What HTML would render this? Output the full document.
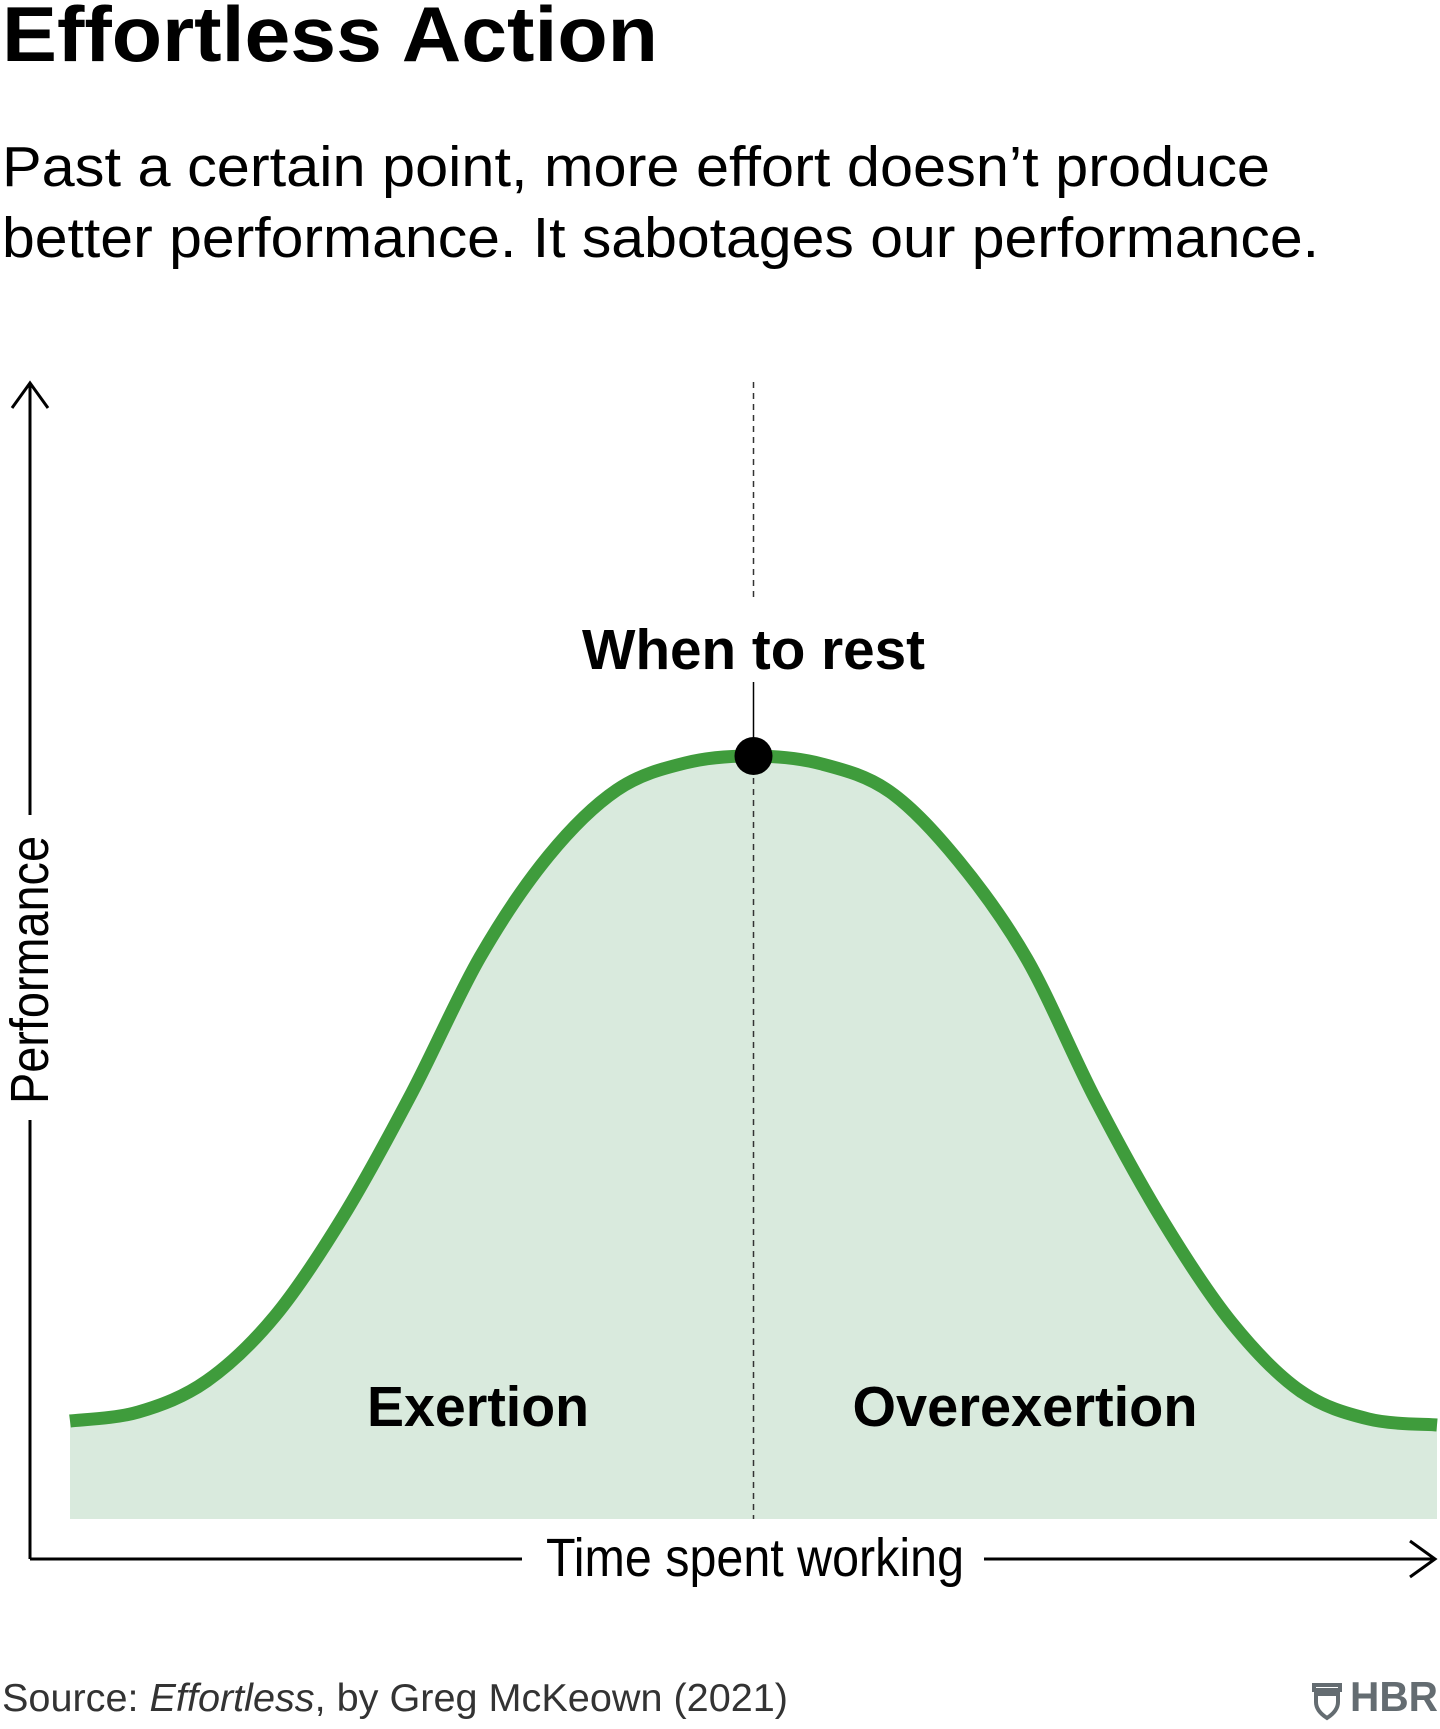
<!DOCTYPE html>
<html><head><meta charset="utf-8"><style>
html,body{margin:0;padding:0;background:#fff;}
body{width:1440px;height:1724px;overflow:hidden;font-family:"Liberation Sans",sans-serif;}
</style></head><body>
<svg width="1440" height="1724" viewBox="0 0 1440 1724" xmlns="http://www.w3.org/2000/svg">
<text x="2" y="61" font-size="78" font-weight="bold" fill="#000" font-family="Liberation Sans, sans-serif" textLength="656" lengthAdjust="spacingAndGlyphs">Effortless Action</text>
<text x="2" y="186" font-size="57" fill="#000" font-family="Liberation Sans, sans-serif" textLength="1268" lengthAdjust="spacingAndGlyphs">Past a certain point, more effort doesn’t produce</text>
<text x="2" y="257" font-size="57" fill="#000" font-family="Liberation Sans, sans-serif" textLength="1317" lengthAdjust="spacingAndGlyphs">better performance. It sabotages our performance.</text>
<g id="plot"></g>
<text x="2" y="1711" font-size="39" fill="#333" font-family="Liberation Sans, sans-serif" textLength="786" lengthAdjust="spacingAndGlyphs">Source: <tspan font-style="italic">Effortless</tspan>, by Greg McKeown (2021)</text>
<g fill="#646c71">
<path d="M1314 1685 h26 v5 h-26z M1316 1694 h22 v8 q0 9 -11 16 q-11 -7 -11 -16z" fill="none" stroke="#646c71" stroke-width="4"/>
<text x="1350" y="1711" font-size="42" font-weight="bold" font-family="Liberation Sans, sans-serif" textLength="88" lengthAdjust="spacingAndGlyphs">HBR</text>
</g>
</svg>
<script>
const timeSteps = [0,1,2,3,4,5,6,7,8,9,10,11,12,13,14,15,16,17,18,19,20];
const performance = [98,107,138,203,303,426,562,663,729,756,763,755,727,658,560,420,297,196,128,100,94];
const peakIndex = 10;
const labels = ["Exertion","Overexertion"];

const NS="http://www.w3.org/2000/svg";
const g=document.getElementById('plot');
const x0=70,x1=1437,base=1519;
const xs=t=>x0+t*(x1-x0)/20;
const ys=v=>base-v;
function el(tag,attrs){const e=document.createElementNS(NS,tag);for(const k in attrs)e.setAttribute(k,attrs[k]);g.appendChild(e);return e;}
const P=timeSteps.map((t,i)=>[xs(t),ys(performance[i])]);
let d=`M${P[0][0]},${P[0][1]}`;
for(let i=0;i<P.length-1;i++){
  const p0=P[Math.max(0,i-1)],p1=P[i],p2=P[i+1],p3=P[Math.min(P.length-1,i+2)];
  d+=` C${p1[0]+(p2[0]-p0[0])/6},${p1[1]+(p2[1]-p0[1])/6} ${p2[0]-(p3[0]-p1[0])/6},${p2[1]-(p3[1]-p1[1])/6} ${p2[0]},${p2[1]}`;
}
const area=el('path',{d:d+` L${x1},${base} L${x0},${base} Z`,fill:'#d9eadd'});


const px=xs(timeSteps[peakIndex]),py=ys(performance[peakIndex]);
const dash1=el('line',{x1:px,y1:382,x2:px,y2:599,stroke:'#333','stroke-width':1.5,'stroke-dasharray':'6,5'});


const dash2=el('line',{x1:px,y1:py,x2:px,y2:base,stroke:'#333','stroke-width':1.5,'stroke-dasharray':'6,5'});


const curve=el('path',{d:d,fill:'none',stroke:'#3f9c3c','stroke-width':13});


const sl=el('line',{x1:px,y1:682,x2:px,y2:py,stroke:'#000','stroke-width':1.5});


const dot=el('circle',{cx:px,cy:py,r:19,fill:'#000'});


const wt=el('text',{x:px,y:669,'text-anchor':'middle','font-size':57,'font-weight':'bold','font-family':'Liberation Sans, sans-serif',textLength:343,lengthAdjust:'spacingAndGlyphs'});
wt.textContent='When to rest';


[[478,labels[0],222],[1025,labels[1],345]].forEach(([cx,s,w],i)=>{
  const t=el('text',{x:cx,y:1426,'text-anchor':'middle','font-size':57,'font-weight':'bold','font-family':'Liberation Sans, sans-serif',textLength:w,lengthAdjust:'spacingAndGlyphs'});
  t.textContent=s;
  
  
});
const ya=el('path',{d:'M30,1559 L30,1120 M30,815 L30,383 M12,408 L30,383 L48,408',fill:'none',stroke:'#000','stroke-width':3});


const yt=el('text',{x:0,y:0,transform:'translate(48,970) rotate(-90)','text-anchor':'middle','font-size':54,'font-family':'Liberation Sans, sans-serif',textLength:268,lengthAdjust:'spacingAndGlyphs'});
yt.textContent='Performance';


const xa=el('path',{d:'M30,1559 L522,1559 M984,1559 L1435,1559 M1410,1541 L1435,1559 L1410,1577',fill:'none',stroke:'#000','stroke-width':3});


const xt=el('text',{x:755,y:1576,'text-anchor':'middle','font-size':54,'font-family':'Liberation Sans, sans-serif',textLength:418,lengthAdjust:'spacingAndGlyphs'});
xt.textContent='Time spent working';


</script>
</body></html>
